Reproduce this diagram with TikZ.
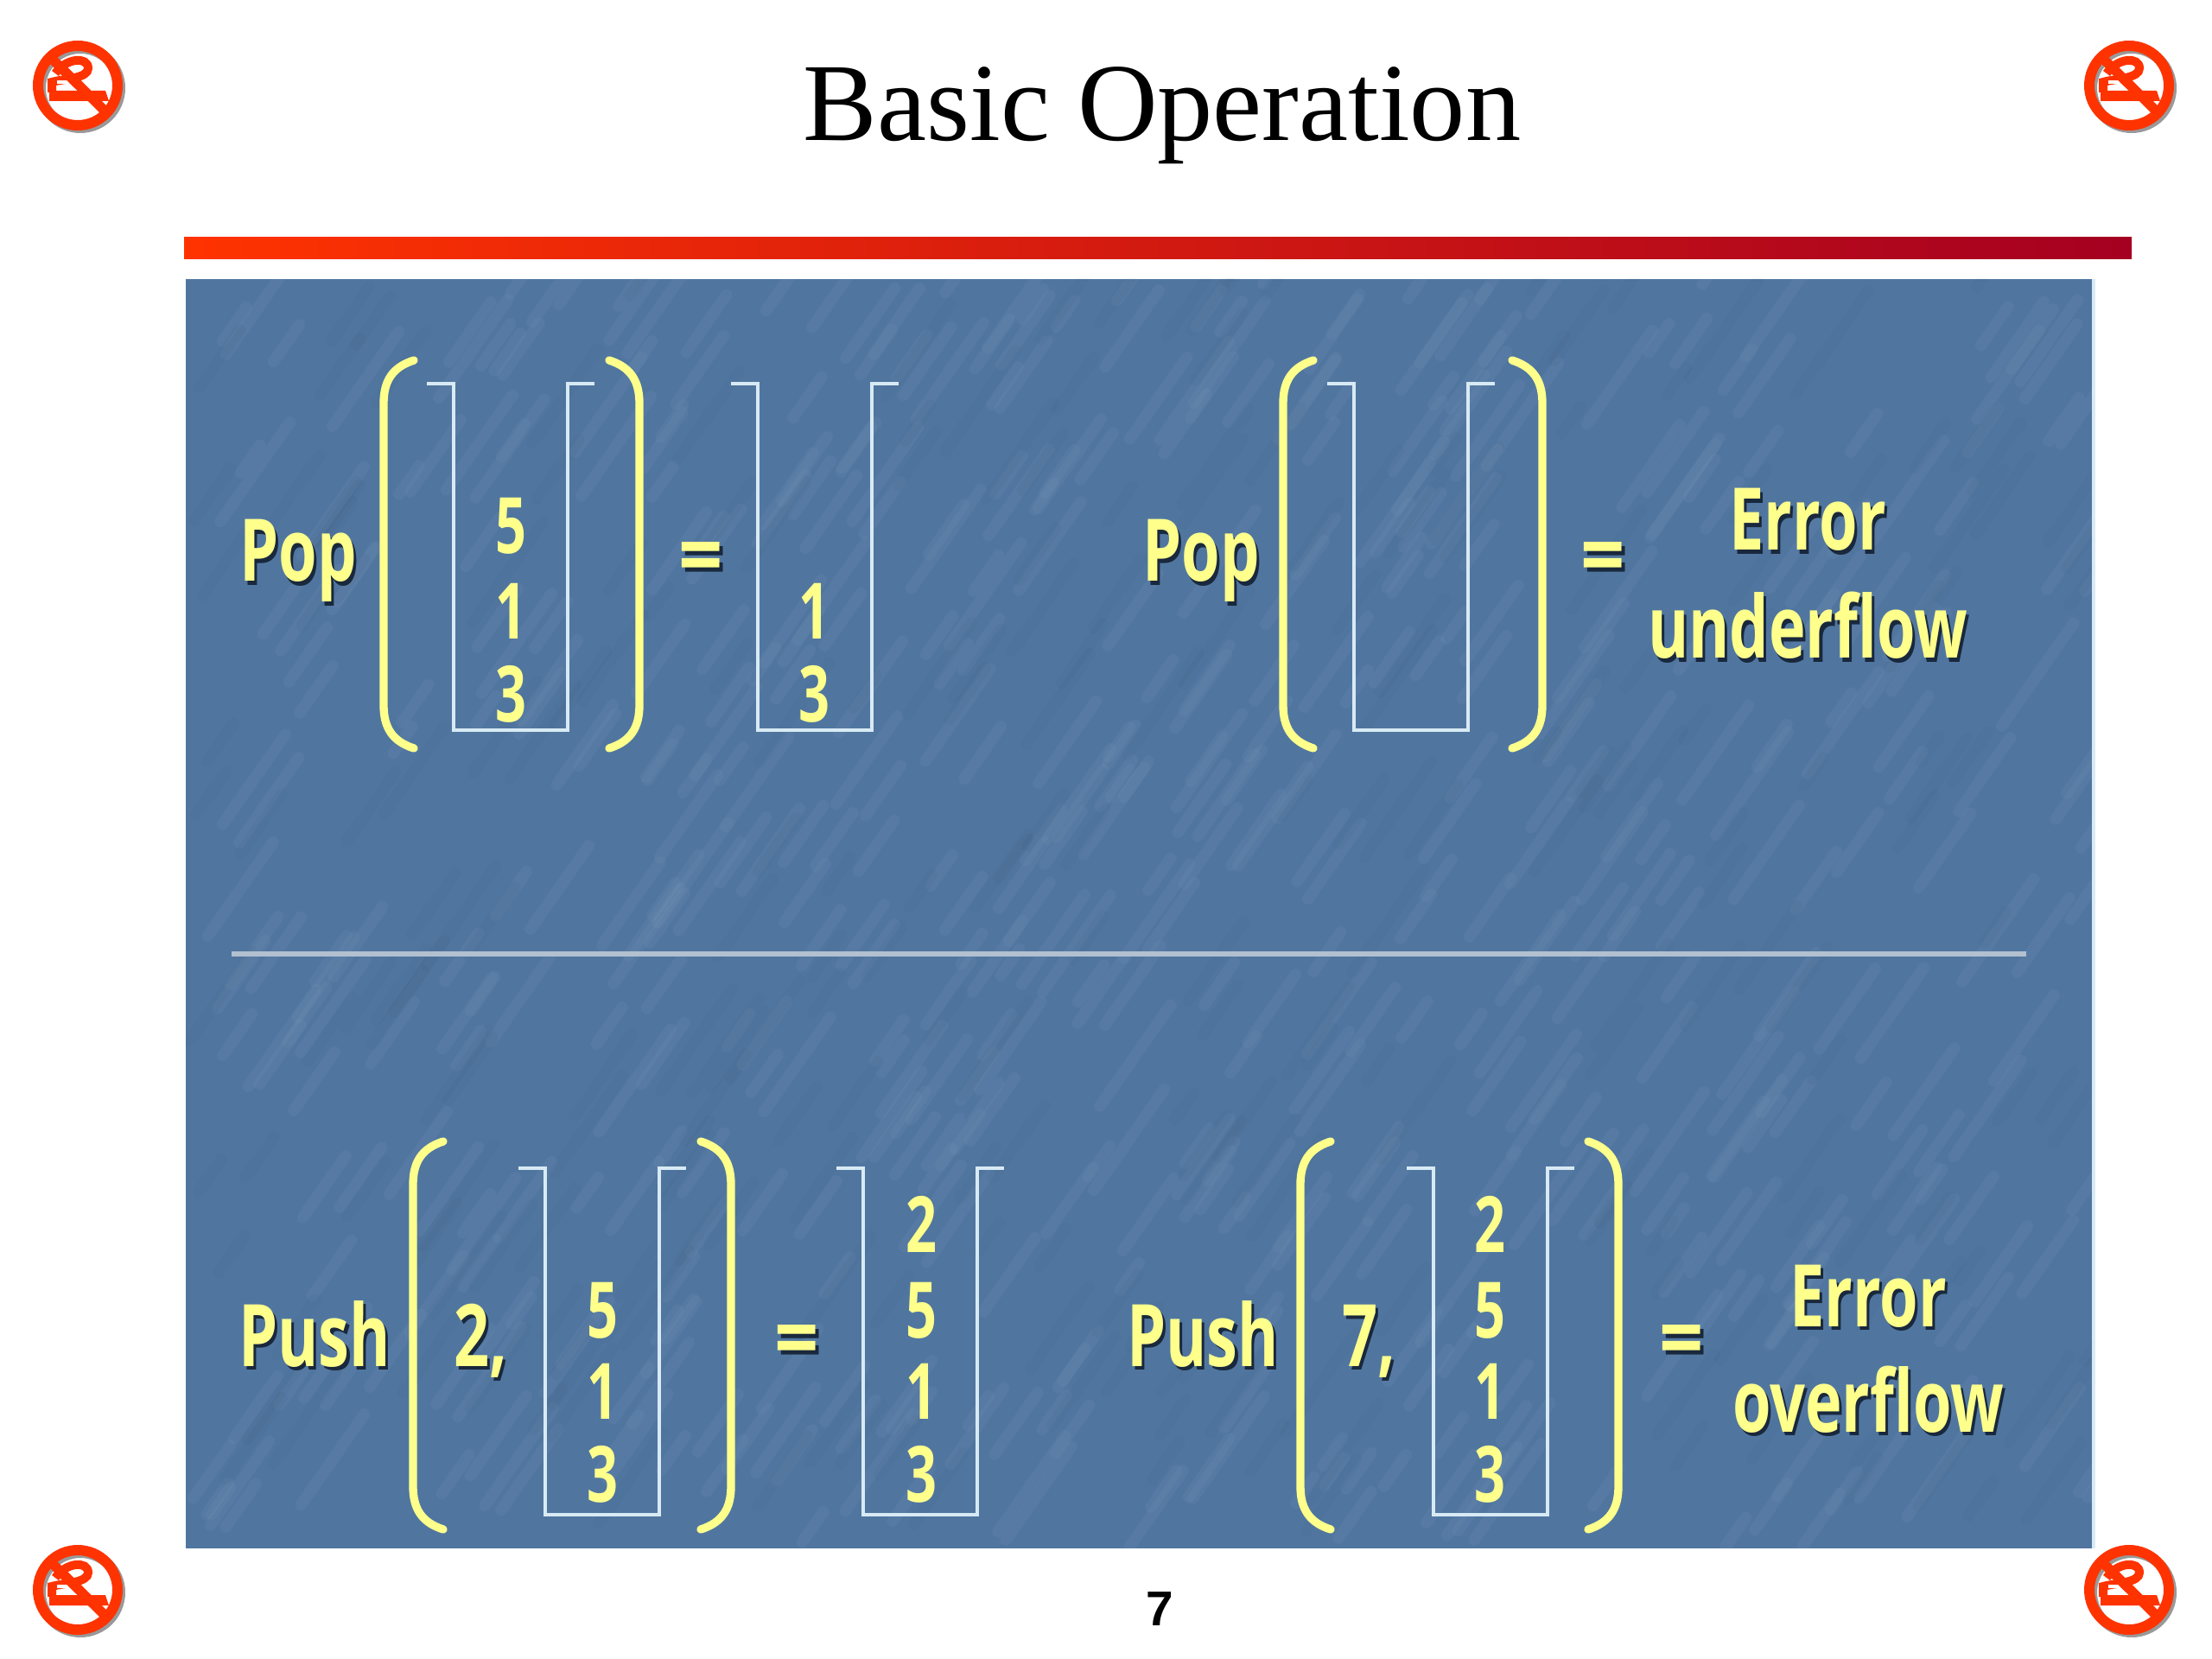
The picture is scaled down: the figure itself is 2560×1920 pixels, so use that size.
\documentclass[tikz,border=0pt]{standalone}
\usepackage{fontspec}
\setmainfont{Liberation Serif}
\newfontfamily\lPanel{Open Sans}
\newfontfamily\lPage{Liberation Sans}
\definecolor{themeRed}{RGB}{255, 51, 0}
\definecolor{themeMid}{RGB}{214, 36, 30}
\definecolor{themeDark}{RGB}{165, 0, 33}
\definecolor{themePanel}{RGB}{80, 118, 160}
\definecolor{themeYellow}{RGB}{255, 255, 140}
\definecolor{themeLine}{RGB}{216, 234, 244}
\definecolor{themeRule}{RGB}{178, 192, 208}
\definecolor{themeShade}{RGB}{25, 40, 60}
\newcommand{\lShade}[1]{\makebox[0pt][l]{\kern1.4pt\raisebox{-1.4pt}{\textcolor{themeShade}{#1}}}#1}
\usetikzlibrary{calc}

\begin{document}
\begin{tikzpicture} [
        x=0.3pt, y=-0.3pt,
        bar/.style={left color=themeRed, middle color=themeMid, right color=themeDark, draw=none},
        word/.style={font=\lPanel\bfseries\fontsize{30}{30}\selectfont, text=themeYellow, anchor=base, inner sep=0pt, transform shape, xscale=.72},
        digit/.style={font=\lPanel\bfseries\fontsize{27}{27}\selectfont, text=themeYellow, inner sep=0pt, transform shape, xscale=.7},
        wall/.style={draw=themeLine, line width=1.2pt, line join=miter},
        curve/.style={draw=themeYellow, line width=2.8pt, line cap=round},
        pics/bucket/.style={code={
            \draw[wall] (-97,0) -- (-66,0) -- (-66,401) -- (66,401) -- (66,0) -- (97,0);
        }},
        pics/round pair/.style n args={2}{code={
            % #1 half width at the tips, #2 height
            \draw[curve] (-#1,0) .. controls (-#1-25,8) and (-#1-35,24) .. (-#1-35,50) -- (-#1-35,#2-50) .. controls (-#1-35,#2-24) and (-#1-25,#2-8) .. (-#1,#2);
            \draw[curve] (#1,0) .. controls (#1+25,8) and (#1+35,24) .. (#1+35,50) -- (#1+35,#2-50) .. controls (#1+35,#2-24) and (#1+25,#2-8) .. (#1,#2);
        }},
        pics/no smoke/.style={code={
            \draw[black!40, line width=3.6pt] (3,3) circle (46);
            \fill[themeRed] (-33,6) -- (32,6) -- (36,18) -- (-33,18) -- cycle;
            \draw[themeRed, line width=3pt] (-26,-14) .. controls (-14,-32) and (12,-34) .. (12,-20) .. controls (12,-8) and (-16,-8) .. (-30,-4) -- (-30,8);
            \draw[white, line width=1.2pt] (-24,-4) -- (-10,-4);
            \draw[themeRed, line width=3.6pt] (0,0) circle (46);
            \draw[themeRed, line width=3.4pt] (-31,-32) -- (32,30);
        }}
    ]

    \useasboundingbox (0,0) rectangle (2560,1920);
    \fill[white] (0,0) rectangle (2560,1920);

    \node[font=\fontsize{38.5}{38.5}\selectfont, anchor=base, inner sep=0pt] (title) at (1345,163) {Basic Operation};
    \fill[bar] (213,275) rectangle (2467,300);

    \foreach \px/\py in {90/99, 2464/99, 90/1840, 2464/1840}
        \pic at (\px,\py) {no smoke};

    \fill[themeLine] (215,323) rectangle (2425,1792);
    \fill[themePanel] (215,323) rectangle (2421,1792);
    \begin{scope}
        \clip (215,323) rectangle (2421,1792);
        \pgfmathsetseed{7}
        \foreach \i in {1,...,800} {
            \pgfmathsetmacro{\px}{215+rnd*2206}
            \pgfmathsetmacro{\py}{323+rnd*1469}
            \pgfmathsetmacro{\len}{30+rnd*90}
            \pgfmathsetmacro{\shadetone}{ifthenelse(rnd<.7,"white","themeShade")}
            \draw[\shadetone, opacity=.035, line width=4pt, line cap=round] (\px,\py) -- ++(\len*.7,-\len);
        }
    \end{scope}

    \draw[themeRule, line width=1.7pt] (268,1104) -- (2345,1104);

    \foreach \px/\py in {591/444, 943/444, 1633/444, 697/1352, 1065/1352, 1725/1352}
        \pic at (\px,\py) {bucket};

    \pic at (592,417) {round pair={113}{449}};
    \pic at (1635,417) {round pair={115}{449}};
    \pic at (662,1321) {round pair={149}{449}};
    \pic at (1689,1321) {round pair={149}{449}};

    \node[word] (pop a) at (345,673) {\lShade{Pop}};
    \node[word] (pop b) at (1390,673) {\lShade{Pop}};
    \node[word] (push a) at (364,1581) {\lShade{Push}};
    \node[word] (push b) at (1392,1581) {\lShade{Push}};
    \node[word] (two) at (556,1581) {\lShade{2,}};
    \node[word] (seven) at (1584,1581) {\lShade{7,}};

    \foreach \name/\px/\py in {eq a/811/655, eq b/1855/655, eq c/922/1561, eq d/1946/1561}
        \node[word, anchor=center, xscale=1.25] (\name) at (\px,\py) {\lShade{=}};

    \node[word] (error a) at (2092,637) {\lShade{Error}};
    \node[word] (under) at (2092,762) {\lShade{underflow}};
    \node[word] (error b) at (2162,1535) {\lShade{Error}};
    \node[word] (over) at (2162,1657) {\lShade{overflow}};

    \foreach \name/\px/\py/\val in {a5/591/609/5, a1/591/707/1, a3/591/803/3, b1/942/707/1, b3/942/803/3,
            d5/697/1517/5, d1/697/1610/1, d3/697/1706/3,
            e2/1066/1417/2, e5/1066/1517/5, e1/1066/1610/1, e3/1066/1706/3,
            f2/1724/1417/2, f5/1724/1517/5, f1/1724/1610/1, f3/1724/1706/3}
        \node[digit] (\name) at (\px,\py) {\val};

    \node[font=\lPage\bfseries\fontsize{17}{17}\selectfont, inner sep=0pt] (page) at (1342,1862) {7};

\end{tikzpicture}
\end{document}
